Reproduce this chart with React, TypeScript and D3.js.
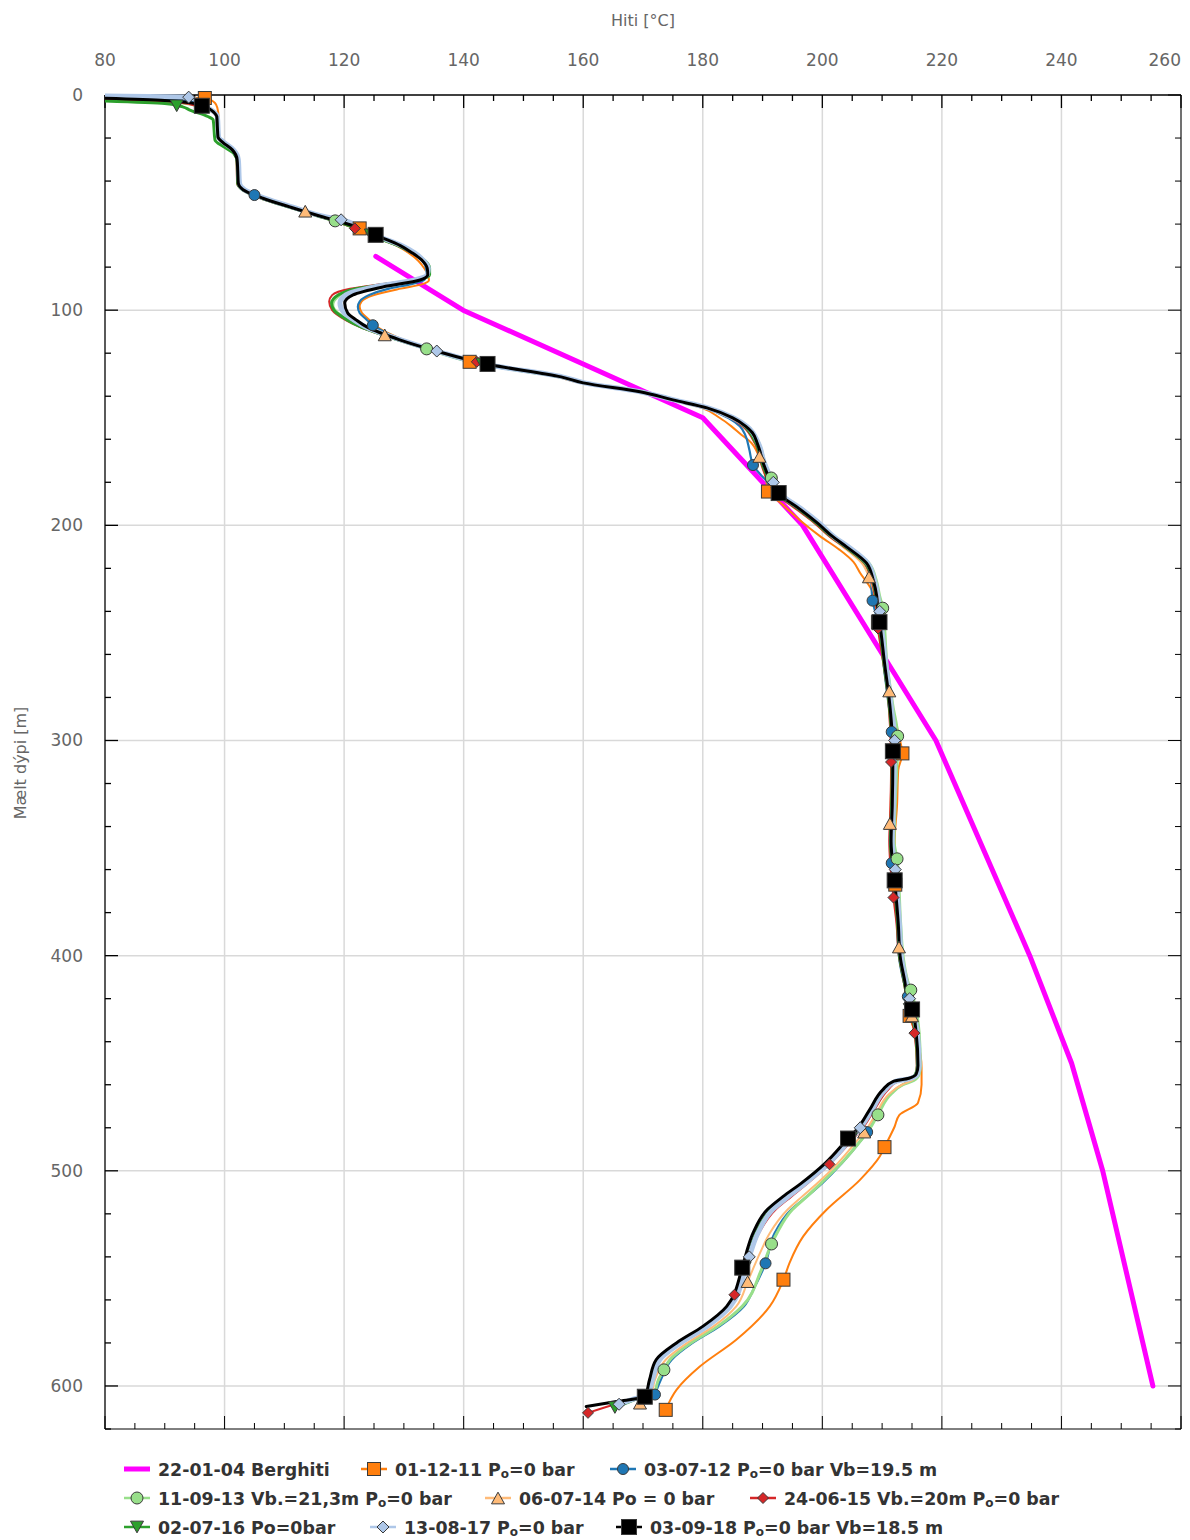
import React from 'react';
import * as d3 from 'd3';

// Temperature logs of the well: each point is [depth in m, temperature in °C]
type Pt = [number, number];

const tempTicks = [80, 100, 120, 140, 160, 180, 200, 220, 240, 260];
const depthTicks = [0, 100, 200, 300, 400, 500, 600];

const berghiti: Pt[] = [
  [75, 125.3], [100, 139.9], [150, 180], [200, 196.7], [300, 219], [400, 234.7],
  [450, 241.7], [500, 246.9], [600, 255.3],
];

const log011211: Pt[] = [
  [0.8, 80], [1.4, 96.7], [2.5, 97.8], [3.7, 98.4], [6, 98.8], [10, 99], [19.5, 99.1], [22, 100],
  [25.5, 101.6], [30, 102.4], [41, 102.6], [44, 103.4], [48, 106.8], [52, 111.2], [56.7, 116.7],
  [59, 119.4], [62, 122.6], [66, 125.7], [70, 128.8], [73.4, 130.8], [77, 132.4], [80.5, 133.4],
  [83.5, 134], [86, 134.2], [88, 133], [90, 129.5], [93, 125], [96, 122.9], [98.4, 122.6],
  [101.3, 123], [104, 124], [107.8, 125.5], [113.8, 130], [118.5, 135.3], [124, 141], [131, 155.5],
  [133.8, 159.5], [137.9, 169], [141.7, 174.6], [145.4, 179.8], [150, 182.8], [154, 184.8],
  [158, 186.5], [161, 187.9], [168, 189.4], [178.9, 190.6], [184.3, 190.9], [190, 193.2],
  [197.5, 196.2], [205, 199.6], [211.4, 202.9], [217, 205.2], [222, 206.3], [231.5, 208.5],
  [245, 209.3], [263.9, 210.4], [283.8, 211.6], [300, 213], [306, 213.4], [313.7, 212.7],
  [330, 212.5], [347, 212.1], [367, 212.2], [385, 212.7], [400, 213.1], [412, 213.7], [428, 214.6],
  [440, 216], [452, 216.6], [460, 216.6], [468.4, 216], [474, 212.9], [479.4, 212.1], [489, 210.4],
  [493.4, 209.6], [504.2, 206.3], [518.1, 200.7], [530.5, 196.8], [542.9, 194.5], [550.6, 193.5],
  [563, 191.2], [578.5, 185.6], [591, 179.5], [601.8, 175.6], [611.1, 173.8],
];

const log030712: Pt[] = [
  [1.2, 80], [2.2, 92], [3.5, 95], [5, 96.5], [7, 97.8], [10, 98.7], [19.5, 98.9], [22, 99.8],
  [25.5, 101.4], [30, 102.2], [41, 102.4], [44, 103.2], [46.5, 105], [48, 106.5], [52, 111.2],
  [56.7, 117], [59, 119.8], [62, 122.8], [66, 126], [70, 129.5], [73.4, 131.6], [77, 133.1],
  [80.5, 133.7], [83.5, 133.8], [86, 133.4], [88, 131], [90, 127.5], [93, 124.2], [96, 122.6],
  [98.4, 122.3], [101.3, 122.6], [104, 123.6], [107, 124.8], [113.8, 129.8], [118.5, 135.2],
  [125.5, 144.4], [131, 156.3], [133.8, 160], [137.9, 169.4], [141.7, 174.9], [145.4, 180.3],
  [150.1, 184.3], [154, 186.2], [158, 187.1], [165, 187.8], [172, 188.4], [178.9, 190.5],
  [185.9, 192.5], [192, 195.6], [199, 198.9], [205.4, 201.5], [209.9, 203.7], [217.6, 207.1],
  [225.4, 208.1], [235, 208.4], [245, 209.3], [263.9, 210.2], [283.8, 211.1], [296, 211.6],
  [330, 211.5], [347, 211.3], [357, 211.6], [385, 212.5], [400, 212.8], [412, 213.6], [419, 214.3],
  [436, 215.6], [451, 216], [455, 215.8], [458, 215], [460, 213.4], [464, 211.5], [474, 209.2],
  [482, 207.5], [485, 206.7], [496.4, 203.3], [505.7, 200], [512, 197.4], [518, 194.8],
  [529, 192], [543, 190.5], [555, 188.5], [563, 186.9], [572.3, 182.8], [580, 178.3],
  [587.8, 174.8], [597, 173], [604, 172],
];

const log110913: Pt[] = [
  [2.2, 80], [3.5, 92], [5, 95.5], [7, 97.5], [10, 98.7], [19.5, 98.9], [22, 99.8], [25.5, 101.4],
  [30, 102.2], [41, 102.4], [44, 103.2], [48, 106.5], [52, 111], [56.7, 116.4], [58.5, 118.5],
  [62, 122], [66, 125.3], [70, 129], [73.4, 131.4], [77, 133.4], [80.5, 134.2], [83.5, 134.2],
  [86, 132], [88, 127], [90, 122.5], [93, 119.3], [97.6, 118.1], [101, 118.8], [104.5, 120.8],
  [107.8, 123], [113.8, 129], [118, 133.8], [125.5, 143.6], [131, 156], [133.8, 160],
  [137.9, 169.8], [141.7, 175.4], [145.4, 181], [150.1, 185.3], [154, 187.5], [161.8, 189.4],
  [171, 190.4], [178.9, 191.6], [185.9, 193.2], [192, 196.3], [199, 199.5], [205.4, 202.1],
  [209.9, 204.4], [217.6, 207.8], [225.4, 209], [233, 209.6], [238.5, 210.1], [263.9, 210.8],
  [283.8, 211.8], [298, 212.6], [330, 212.2], [347, 212], [355, 212.5], [385, 213.1], [400, 213.5],
  [412, 214.3], [416, 214.8], [436, 216.2], [451, 216.4], [455, 216.2], [458, 215.3], [460, 213.5],
  [464, 211.6], [474, 209.3], [481, 207.8], [485, 206.7], [496.4, 203.2], [505.7, 199.8],
  [512, 197.4], [518, 195], [529, 192.4], [534, 191.5], [546, 189.8], [563, 186.6],
  [572.3, 182.5], [580, 178], [587.8, 174.5], [592.5, 173.5], [597, 172.6], [604, 172],
];

const log060714: Pt[] = [
  [1.8, 80], [3, 91], [4.5, 95], [6, 97], [8, 98.3], [10, 98.8], [19.5, 99], [22, 99.9],
  [25.5, 101.5], [30, 102.3], [41, 102.4], [44, 103.2], [48, 106.5], [52, 111], [54, 113.5],
  [56.7, 116.6], [59, 119.2], [62, 122.3], [66, 125.6], [70, 129.3], [73.4, 131.6], [77, 133.5],
  [80.5, 134.2], [83.5, 134.1], [86, 132], [88, 127.3], [90, 123], [93, 120.2], [97, 119.3],
  [101, 119.8], [104.5, 121.5], [107.8, 123.4], [111.5, 126.8], [113.8, 129.2], [118.5, 134.7],
  [125.5, 143.9], [131, 156.1], [133.8, 160], [137.9, 169.4], [141.7, 174.9], [145.4, 180.4],
  [150.1, 184.6], [154, 186.8], [161.8, 188.8], [171, 189.8], [178.9, 191], [185.9, 192.6],
  [192, 195.6], [199, 198.8], [205.4, 201.3], [209.9, 203.4], [217.6, 206.6], [224, 207.8],
  [233, 208.8], [245, 209.4], [263.9, 210.2], [277, 211.2], [305, 211.7], [330, 211.4],
  [338.6, 211.3], [365, 212], [385, 212.6], [400, 212.9], [410, 213.6], [420, 214.3], [436, 215.7],
  [451, 216.1], [455, 215.9], [458, 215], [460, 213.3], [464, 211.3], [474, 208.9], [481, 207.3],
  [485, 206.1], [496.4, 202.6], [505.7, 199.2], [512, 196.6], [518, 194.2], [529, 191.2],
  [538, 189.6], [551.5, 187.5], [563, 185.6], [572.3, 181.8], [580, 177.4], [587.8, 173.8],
  [597, 172], [605, 171.2], [608, 169.5],
];

const log240615: Pt[] = [
  [2, 80], [3, 91], [4.5, 94.5], [6, 96.5], [8, 98], [10, 98.6], [19.5, 98.8], [22, 99.6],
  [25.5, 101.2], [30, 102], [41, 102.1], [44, 102.9], [48, 106], [52, 110.5], [56.7, 116],
  [59, 118.8], [62, 121.8], [66, 125], [70, 128.8], [73.4, 131.2], [77, 133.1], [80.5, 134],
  [83.5, 134], [86, 131.5], [88, 126], [90, 121], [93, 118], [96, 117.5], [100, 118],
  [104.5, 120.2], [107.8, 122.6], [113.8, 128.8], [118.5, 134.5], [124, 142.2], [131, 155.9],
  [133.8, 159.8], [137.9, 169.3], [141.7, 174.8], [145.4, 180.4], [150.1, 184.6], [154, 186.7],
  [161.8, 188.7], [171, 189.7], [178.9, 190.8], [185.9, 192.4], [192, 195.4], [199, 198.7],
  [205.4, 201.3], [209.9, 203.6], [217.6, 207], [225.4, 208.2], [233, 208.8], [250, 209.4],
  [263.9, 210.2], [283.8, 211.1], [310, 211.5], [330, 211.4], [347, 211.2], [373, 211.9],
  [385, 212.4], [400, 212.8], [412, 213.6], [420, 214.1], [436, 215.4], [451, 215.8],
  [455, 215.6], [457, 214.7], [458.5, 212.6], [462.4, 211], [471.7, 208.7], [481, 206.5],
  [485, 205.2], [497, 201.2], [505.7, 197.6], [512, 194.8], [518, 192.2], [529, 189.4],
  [538, 188.1], [546, 187.2], [557.6, 185.3], [563, 184.5], [572.3, 180.6], [580, 176.2],
  [587.8, 172.7], [597, 171.3], [605, 170.5], [608, 166], [612.5, 160.8],
];

const log020716: Pt[] = [
  [2.8, 80], [4, 90], [5.5, 93], [7, 94.2], [10, 97.2], [11.6, 98.1], [20.9, 98.4], [24, 99.8],
  [27, 101.5], [31, 102.1], [41, 102.2], [44, 103], [48, 106.2], [52, 110.6], [56.7, 116.2],
  [59, 119], [62, 122], [66, 125.3], [70, 129], [73.4, 131.5], [77, 133.5], [80.5, 134.3],
  [83.5, 134.3], [86, 132.2], [88, 127], [90, 122], [93, 119], [96.8, 117.9], [100, 118.3],
  [104.5, 120.5], [107.8, 122.8], [113.8, 129], [118.5, 134.5], [125.5, 143.8], [131, 156.2],
  [133.8, 160.2], [137.9, 169.8], [141.7, 175.3], [145.4, 180.8], [150.1, 185], [154, 187],
  [161.8, 188.9], [171, 189.9], [178.9, 191.1], [185.9, 192.7], [192, 195.8], [199, 199],
  [205.4, 201.6], [209.9, 203.8], [217.6, 207.2], [225.4, 208.4], [233, 209], [245, 209.5],
  [263.9, 210.3], [283.8, 211.2], [305, 211.7], [330, 211.6], [347, 211.4], [365, 212],
  [385, 212.6], [400, 212.9], [412, 213.7], [420, 214.2], [436, 215.6], [451, 215.9],
  [455, 215.6], [457, 214.6], [458.5, 212.3], [462.4, 210.5], [471.7, 208.3], [481, 206.2],
  [485, 204.8], [496.4, 201], [505.7, 197.1], [512, 194.1], [518, 191.4], [529, 188.9],
  [538, 187.8], [546, 186.9], [563, 184.4], [572.3, 180.5], [580, 176.1], [587.8, 172.6],
  [597, 171.3], [604, 170.6], [607, 168], [610, 165.3],
];

const log130817: Pt[] = [
  [0.5, 80], [1, 94], [3, 95.5], [5, 96.5], [7, 97.8], [10, 98.8], [19.5, 99], [22, 99.9],
  [25.5, 101.5], [30, 102.3], [41, 102.5], [44, 103.3], [48, 106.8], [52, 111.3], [56.7, 117],
  [58, 119.5], [62, 122.8], [66, 126], [70, 129.6], [73.4, 131.8], [77, 133.3], [80.5, 134.1],
  [83.5, 133.9], [86, 131.8], [89.2, 125], [92.9, 120.3], [96.7, 119.3], [101.3, 120],
  [104.5, 121.6], [107.8, 123.6], [113.8, 129.5], [119, 135.5], [125.5, 144.3], [131, 156.5],
  [133.8, 160.2], [137.9, 169.5], [141.7, 175.2], [145.4, 180.9], [150.1, 185.2], [154, 187.4],
  [161.8, 189.3], [171, 190.3], [180, 191.8], [185.9, 193.2], [192, 196.3], [199, 199.5],
  [205.4, 202], [209.9, 204.3], [217.6, 207.6], [225.4, 208.7], [233, 209.3], [240, 209.6],
  [263.9, 210.6], [283.8, 211.5], [300, 212.1], [330, 211.9], [347, 211.7], [360, 212.2],
  [385, 212.9], [400, 213.2], [412, 214], [420, 214.6], [436, 215.9], [451, 216.2], [455, 215.9],
  [457, 214.8], [458.5, 212.2], [462.4, 210.5], [471.7, 208.3], [481, 206.1], [485, 204.8],
  [496.4, 201.1], [505.7, 197.2], [512, 194.3], [518, 191.7], [529, 189.2], [538, 188],
  [546, 187.1], [563, 184.6], [572.3, 180.7], [580, 176.3], [587.8, 172.8], [597, 171.6],
  [604, 170.8], [606, 168.5], [608.5, 166],
];

const log030918: Pt[] = [
  [1.5, 80], [2.5, 90], [3.5, 94], [5, 96.2], [6.5, 97.5], [8, 98.2], [10, 98.7], [15, 98.8],
  [19.5, 98.9], [22, 99.7], [25.5, 101.3], [30, 102.1], [35, 102.2], [41, 102.3], [44, 103.1],
  [48, 106.4], [52, 110.9], [56.7, 116.5], [59, 119.5], [62, 122.8], [66, 126.1], [70, 129.4],
  [73.4, 131.4], [77, 133.1], [80.5, 133.9], [83.5, 134], [86, 132.7], [89.2, 126.5], [92.9, 121.5],
  [96.7, 120.1], [101.3, 120.6], [104.5, 122], [107.8, 123.8], [113.8, 129.3], [118.5, 134.8],
  [125.5, 144.7], [131, 156.3], [133.8, 160], [137.9, 169.5], [141.7, 175], [145.4, 180.7],
  [150.1, 185], [154, 187.2], [157, 188.3], [161.8, 189.1], [165, 189.5], [171, 190.1],
  [178.9, 191.3], [185.9, 192.9], [192, 196], [199, 199.2], [205.4, 201.8], [209.9, 204],
  [217.6, 207.4], [225.4, 208.5], [233, 209.1], [240.7, 209.3], [245.6, 209.6], [263.9, 210.4],
  [283.8, 211.3], [305, 211.8], [330, 211.7], [347, 211.5], [365, 212.1], [385, 212.7],
  [400, 213], [412, 213.8], [420, 214.3], [425.6, 215.1], [436, 215.7], [451, 216], [455, 215.7],
  [457, 214.5], [458.5, 211.8], [462.4, 210.1], [471.7, 207.9], [481, 205.7], [485, 204.3],
  [496.4, 200.5], [505.7, 196.5], [512, 193.4], [518, 190.8], [529, 188.4], [538, 187.3],
  [546, 186.5], [563, 184], [572.3, 180], [580, 175.6], [587.8, 172.2], [597, 171.1],
  [605, 170.3], [607, 166.1], [609.5, 160.5],
];

// Depths at which each log carries a symbol
const marks011211 = [1.4, 62, 124, 184.3, 245, 306, 367, 428, 489, 550.6, 611.1];
const marks030712 = [46.5, 107, 172, 235, 296, 357, 419, 482, 543, 604];
const marks110913 = [58.5, 118, 178, 238.5, 298, 355, 416, 474, 534, 592.5];
const marks060714 = [54, 111.5, 168, 224, 277, 338.6, 396, 428, 482, 551.5, 608];
const marks240615 = [62, 124, 186, 248, 310, 373, 436, 497, 557.6, 612.5];
const marks020716 = [5, 65, 125, 185, 245, 305, 365, 425, 485, 545, 610];
const marks130817 = [1, 58, 119, 180, 240, 300, 360, 420, 480, 540, 608.5];
const marks030918 = [5, 65, 125, 185, 245, 305, 365, 425, 485, 545, 605];

type Shape = 'none' | 'square' | 'circle' | 'triUp' | 'triDown' | 'diamond';

interface Series {
  label: string;
  data: Pt[];
  marks: number[];
  color: string;
  width: number;
  shape: Shape;
  size: number;
  smooth: boolean;
}

const series: Series[] = [
  { label: '22-01-04 Berghiti', data: berghiti, marks: [], color: '#ff00ff', width: 5, shape: 'none', size: 0, smooth: false },
  { label: '01-12-11 P_o=0 bar', data: log011211, marks: marks011211, color: '#ff7f0e', width: 2, shape: 'square', size: 13, smooth: true },
  { label: '03-07-12 P_o=0 bar Vb=19.5 m', data: log030712, marks: marks030712, color: '#1f77b4', width: 2.2, shape: 'circle', size: 11, smooth: true },
  { label: '11-09-13 Vb.=21,3m P_o=0 bar', data: log110913, marks: marks110913, color: '#98df8a', width: 3, shape: 'circle', size: 12, smooth: true },
  { label: '06-07-14 Po = 0 bar', data: log060714, marks: marks060714, color: '#ffbb78', width: 2, shape: 'triUp', size: 13, smooth: true },
  { label: '24-06-15 Vb.=20m P_o=0 bar', data: log240615, marks: marks240615, color: '#d62728', width: 2, shape: 'diamond', size: 11, smooth: true },
  { label: '02-07-16 Po=0bar', data: log020716, marks: marks020716, color: '#2ca02c', width: 3, shape: 'triDown', size: 13, smooth: true },
  { label: '13-08-17 P_o=0 bar', data: log130817, marks: marks130817, color: '#aec7e8', width: 5, shape: 'diamond', size: 12, smooth: true },
  { label: '03-09-18 P_o=0 bar Vb=18.5 m', data: log030918, marks: marks030918, color: '#000000', width: 3, shape: 'square', size: 15, smooth: true },
];

// Legend placement: [left x of symbol line, row]
const legendSlots: [number, number][] = [
  [124, 0], [361, 0], [610, 0],
  [124, 1], [485, 1], [750, 1],
  [124, 2], [370, 2], [616, 2],
];

const W = 1190;
const H = 1540;
const plot = { left: 105, right: 1181, top: 95, bottom: 1429 };

const x = d3.scaleLinear().domain([80, 260]).range([plot.left, plot.right]);
const y = d3.scaleLinear().domain([0, 620]).range([plot.top, plot.bottom]);

function tempAt(data: Pt[], depth: number): number {
  const i = d3.bisector((d: Pt) => d[0]).left(data, depth);
  if (i <= 0) return data[0][1];
  if (i >= data.length) return data[data.length - 1][1];
  const a = data[i - 1];
  const b = data[i];
  const t = (depth - a[0]) / (b[0] - a[0]);
  return a[1] + t * (b[1] - a[1]);
}

function Marker({ shape, cx, cy, size, fill }: { shape: Shape; cx: number; cy: number; size: number; fill: string }) {
  const stroke = '#3a3a3a';
  const h = size / 2;
  if (shape === 'square') {
    return <rect x={cx - h} y={cy - h} width={size} height={size} fill={fill} stroke={stroke} strokeWidth={1} />;
  }
  if (shape === 'circle') {
    return <circle cx={cx} cy={cy} r={h} fill={fill} stroke={stroke} strokeWidth={1} />;
  }
  if (shape === 'diamond') {
    return <path d={`M${cx},${cy - h}L${cx + h},${cy}L${cx},${cy + h}L${cx - h},${cy}Z`} fill={fill} stroke={stroke} strokeWidth={1} />;
  }
  if (shape === 'triUp' || shape === 'triDown') {
    const s = shape === 'triUp' ? 1 : -1;
    const hh = size * 0.45;
    return (
      <path
        d={`M${cx},${cy - s * hh}L${cx + h},${cy + s * hh}L${cx - h},${cy + s * hh}Z`}
        fill={fill}
        stroke={stroke}
        strokeWidth={1}
      />
    );
  }
  return null;
}

function Label({ text, lx, ly }: { text: string; lx: number; ly: number }) {
  const parts = text.split('_');
  return (
    <text x={lx} y={ly} fontFamily="DejaVu Sans, sans-serif" fontWeight="bold" fontSize={17.4} fill="#333">
      {parts.map((p, i) =>
        i === 0 ? (
          <tspan key={i}>{p}</tspan>
        ) : (
          <React.Fragment key={i}>
            <tspan fontSize={12} dy={2}>{p[0]}</tspan>
            <tspan dy={-2}>{p.slice(1)}</tspan>
          </React.Fragment>
        )
      )}
    </text>
  );
}

export default function App() {
  const lineSmooth = d3
    .line<Pt>()
    .x((d) => x(d[1]))
    .y((d) => y(d[0]))
    .curve(d3.curveMonotoneY);
  const lineStraight = d3
    .line<Pt>()
    .x((d) => x(d[1]))
    .y((d) => y(d[0]));

  const minorTemps = d3.range(80, 260.01, 5);
  const minorDepths = d3.range(0, 620.01, 20);
  const lastTemp = tempTicks[tempTicks.length - 1];

  return (
    <svg width={W} height={H} style={{ position: 'absolute', left: 0, top: 0, background: '#fff' }}>
      <defs>
        <clipPath id="plotClip">
          <rect x={plot.left} y={plot.top - 2} width={plot.right - plot.left} height={plot.bottom - plot.top + 4} />
        </clipPath>
      </defs>
      <rect width={W} height={H} fill="#fff" />

      {/* grid */}
      <g stroke="#d9d9d9" strokeWidth={1.5}>
        {tempTicks.slice(1).map((t) => (
          <line key={t} x1={x(t)} x2={x(t)} y1={plot.top} y2={plot.bottom} />
        ))}
        {depthTicks.slice(1).map((d) => (
          <line key={d} x1={plot.left} x2={plot.right} y1={y(d)} y2={y(d)} />
        ))}
      </g>

      {/* frame and ticks */}
      <g stroke="#000" strokeWidth={1.3}>
        <line x1={plot.left} x2={plot.right} y1={plot.top} y2={plot.top} />
        <line x1={plot.left} x2={plot.left} y1={plot.top} y2={plot.bottom} />
        <line x1={plot.right} x2={plot.right} y1={plot.top} y2={plot.bottom} strokeWidth={1} />
        <line x1={plot.left} x2={plot.right} y1={plot.bottom} y2={plot.bottom} strokeWidth={1} />
        {minorTemps.map((t) => {
          const len = t % 20 === 0 ? 13 : 6;
          return (
            <g key={t}>
              <line x1={x(t)} x2={x(t)} y1={plot.top} y2={plot.top + len} />
              <line x1={x(t)} x2={x(t)} y1={plot.bottom} y2={plot.bottom - len} strokeWidth={1} />
            </g>
          );
        })}
        {minorDepths.map((d) => {
          const len = d % 100 === 0 ? 13 : 6;
          return (
            <g key={d}>
              <line x1={plot.left} x2={plot.left + len} y1={y(d)} y2={y(d)} />
              <line x1={plot.right} x2={plot.right - len} y1={y(d)} y2={y(d)} strokeWidth={1} />
            </g>
          );
        })}
      </g>

      {/* tick labels */}
      <g fontFamily="DejaVu Sans, sans-serif" fontSize={17} fill="#666">
        {tempTicks.map((t) => (
          <text
            key={t}
            x={t === lastTemp ? x(t) : x(t)}
            y={66}
            textAnchor={t === lastTemp ? 'end' : 'middle'}
          >
            {t}
          </text>
        ))}
        {depthTicks.map((d) => (
          <text key={d} x={83} y={y(d) + 6} textAnchor="end">{d}</text>
        ))}
      </g>
      <text x={643} y={26} textAnchor="middle" fontFamily="DejaVu Sans, sans-serif" fontSize={16} fill="#666">
        Hiti [°C]
      </text>
      <text
        transform={`translate(26,763) rotate(-90)`}
        textAnchor="middle"
        fontFamily="DejaVu Sans, sans-serif"
        fontSize={16}
        fill="#666"
      >
        Mælt dýpi [m]
      </text>

      {/* profiles */}
      <g clipPath="url(#plotClip)" fill="none" strokeLinejoin="round" strokeLinecap="round">
        {series.map((s) => (
          <path
            key={s.label}
            d={(s.smooth ? lineSmooth : lineStraight)(s.data) || ''}
            stroke={s.color}
            strokeWidth={s.width}
          />
        ))}
      </g>
      <g>
        {series.map((s) =>
          s.marks.map((m, i) => (
            <Marker key={s.label + i} shape={s.shape} cx={x(tempAt(s.data, m))} cy={y(m)} size={s.size} fill={s.color} />
          ))
        )}
      </g>

      {/* legend */}
      <g>
        {series.map((s, i) => {
          const [lx, row] = legendSlots[i];
          const cy = 1469 + row * 29;
          return (
            <g key={s.label}>
              <line x1={lx} x2={lx + 26} y1={cy} y2={cy} stroke={s.color} strokeWidth={s.shape === 'none' ? 5 : 2.5} />
              {s.shape !== 'none' && <Marker shape={s.shape} cx={lx + 13} cy={cy} size={s.size} fill={s.color} />}
              <Label text={s.label} lx={lx + 34} ly={cy + 7} />
            </g>
          );
        })}
      </g>
    </svg>
  );
}
